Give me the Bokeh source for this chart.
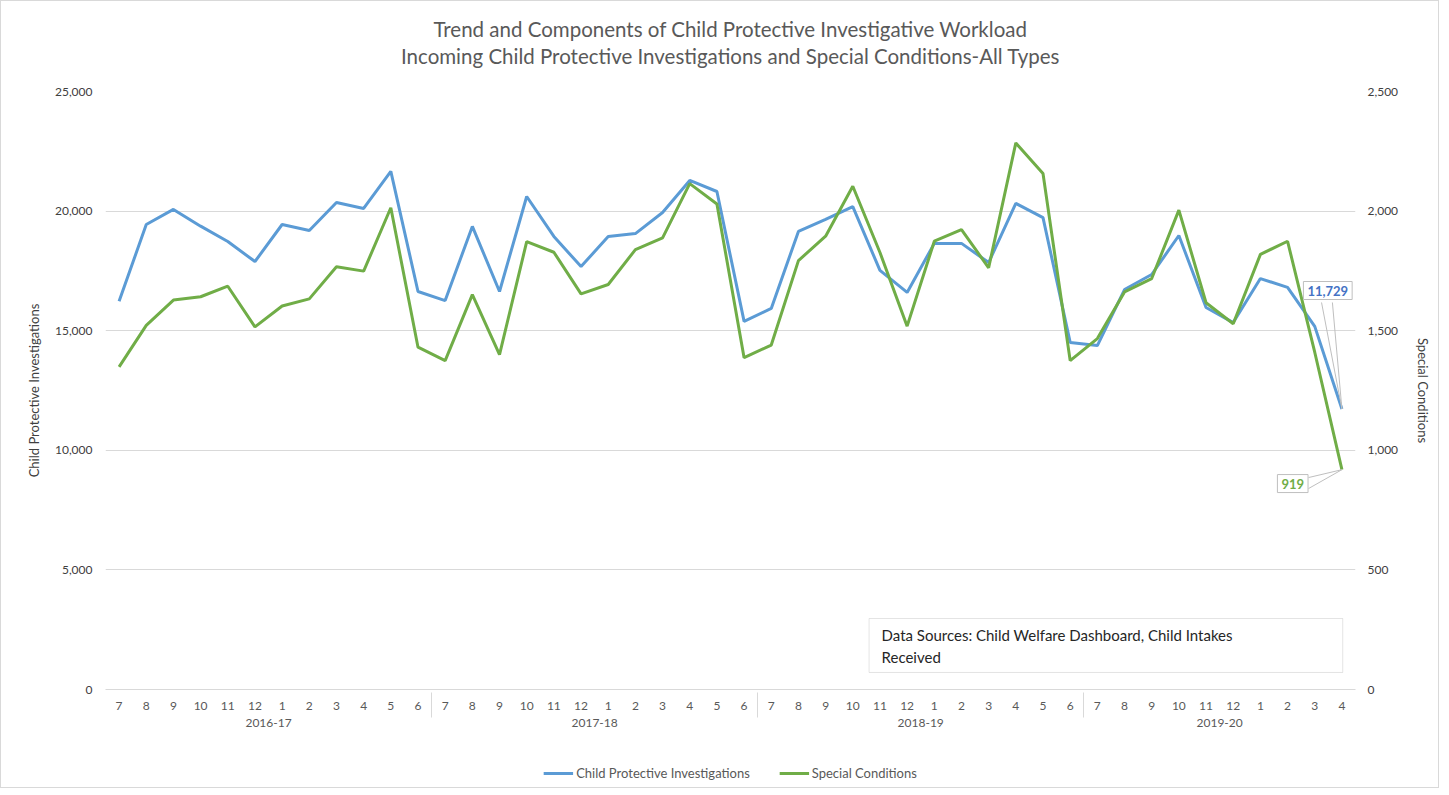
from bokeh.plotting import figure
from bokeh.layouts import column
from bokeh.models import (FactorRange, Range1d, LinearAxis, NumeralTickFormatter,
                          SingleIntervalTicker, Legend, LegendItem, Title, Label,
                          BoxAnnotation)
from bokeh.embed import file_html
from bokeh.resources import INLINE

fiscal_years = ["2016-17", "2017-18", "2018-19", "2019-20"]
months = ["7", "8", "9", "10", "11", "12", "1", "2", "3", "4", "5", "6"]
months_last_year = ["7", "8", "9", "10", "11", "12", "1", "2", "3", "4"]

cpi = [16230, 19440, 20070, 19370, 18730, 17890, 19440, 19190, 20360, 20110, 21660, 16640,
       16260, 19360, 16640, 20610, 18940, 17680, 18940, 19060, 19940, 21280, 20820, 15390,
       15930, 19150, 19650, 20190, 17520, 16600, 18650, 18650, 17850, 20320, 19730, 14510,
       14380, 16720, 17350, 18980, 15970, 15340, 17180, 16810, 15180, 11729]
special = [1349, 1522, 1628, 1642, 1686, 1516, 1603, 1633, 1767, 1749, 2014, 1431,
           1375, 1651, 1400, 1872, 1828, 1654, 1693, 1839, 1888, 2115, 2030, 1387,
           1440, 1793, 1895, 2104, 1827, 1519, 1874, 1923, 1763, 2285, 2157, 1375,
           1467, 1662, 1718, 2004, 1617, 1529, 1819, 1874, 1410, 919]

series_names = ["Child Protective Investigations", "Special Conditions"]
title_1 = "Trend and Components of Child Protective Investigative Workload"
title_2 = "Incoming Child Protective Investigations and Special Conditions-All Types"
source_1 = "Data Sources: Child Welfare Dashboard, Child Intakes"
source_2 = "Received"

factors = [(fy, m) for fy in fiscal_years[:3] for m in months] + \
          [(fiscal_years[3], m) for m in months_last_year]

FONT = "Lato"
TXT = "#595959"
BLUE = "#5B9BD5"
GREEN = "#70AD47"

p = figure(x_range=FactorRange(*factors, factor_padding=0, group_padding=0,
                               subgroup_padding=0, range_padding=0),
           y_range=Range1d(0, 25000),
           frame_width=1250, frame_height=598,
           output_backend="svg", toolbar_location=None,
           min_border_left=104, min_border_right=83, min_border_top=90,
           min_border_bottom=70)
p.extra_y_ranges = {"right": Range1d(0, 2500)}
p.outline_line_color = None

# titles
p.add_layout(Title(text=title_2, align="center", text_font=FONT, text_font_size="20.5px",
                   text_font_style="normal", text_color=TXT, standoff=47.5), "above")
p.add_layout(Title(text=title_1, align="center", text_font=FONT, text_font_size="20.5px",
                   text_font_style="normal", text_color=TXT, standoff=-46.5), "above")

# axes
p.yaxis.ticker = SingleIntervalTicker(interval=5000)
p.yaxis.formatter = NumeralTickFormatter(format="0,0")
p.yaxis.axis_label = series_names[0]
right = LinearAxis(y_range_name="right", ticker=SingleIntervalTicker(interval=500),
                   formatter=NumeralTickFormatter(format="0,0"),
                   axis_label=series_names[1])
p.add_layout(right, "right")
for ax in (p.yaxis[0], right):
    ax.axis_line_color = None
    ax.major_tick_line_color = None
    ax.minor_tick_line_color = None
    ax.major_label_text_font = FONT
    ax.major_label_text_font_size = "12px"
    ax.major_label_text_color = "#404040"
    ax.axis_label_text_font = FONT
    ax.axis_label_text_font_size = "13px"
    ax.axis_label_text_font_style = "normal"
    ax.axis_label_text_color = "#404040"
p.yaxis[0].major_label_standoff = 7
p.yaxis[0].axis_label_standoff = 10
right.major_label_standoff = 6
right.axis_label_standoff = 14

xa = p.xaxis[0]
xa.axis_line_color = "#D9D9D9"
xa.major_tick_line_color = None
xa.minor_tick_line_color = None
xa.major_label_text_font = FONT
xa.major_label_text_font_size = "12px"
xa.major_label_text_color = TXT
xa.major_label_standoff = 6
xa.group_text_font = FONT
xa.group_text_font_size = "12px"
xa.group_text_color = TXT
xa.group_text_font_style = "normal"
xa.separator_line_color = "#D9D9D9"
xa.separator_line_width = 1

p.xgrid.grid_line_color = None
p.ygrid.grid_line_color = "#D9D9D9"
p.ygrid.ticker = SingleIntervalTicker(interval=5000)

r1 = p.line(x=factors, y=cpi, line_color=BLUE, line_width=3)
r2 = p.line(x=factors, y=special, line_color=GREEN, line_width=3, y_range_name="right")

# data source box
p.add_layout(BoxAnnotation(left=28.1, right=45.53, top=2968, bottom=711,
                           fill_color="white", fill_alpha=1,
                           line_color="#A6A6A6", line_width=1))
p.add_layout(Label(x=28.56, y=2258, text=source_1, text_baseline="middle",
                   text_font=FONT, text_font_size="15px", text_color="#262626"))
p.add_layout(Label(x=28.56, y=1338, text=source_2, text_baseline="middle",
                   text_font=FONT, text_font_size="15px", text_color="#262626"))

# callouts for last values
last_x = len(factors) - 0.5
p.multi_line(xs=[[44.75, last_x], [45.15, last_x]],
             ys=[[16180, cpi[-1]], [16180, cpi[-1]]],
             line_color="#BFBFBF", line_width=1)
p.add_layout(Label(x=44.98, y=16680, text=f"{cpi[-1]:,}", text_align="center",
                   text_baseline="middle", text_color="#4472C4", text_font=FONT,
                   text_font_size="13px", text_font_style="bold",
                   background_fill_color="white", border_line_color="#BFBFBF",
                   padding=4))
p.multi_line(xs=[[44.27, last_x], [44.27, last_x]],
             ys=[[886, special[-1]], [840, special[-1]]],
             line_color="#BFBFBF", line_width=1, y_range_name="right")
p.add_layout(Label(x=43.69, y=861, y_range_name="right", text=f"{special[-1]:,}",
                   text_align="center", text_baseline="middle", text_color=GREEN,
                   text_font=FONT, text_font_size="13px", text_font_style="bold",
                   background_fill_color="white", border_line_color="#BFBFBF",
                   padding=4))

# legend strip below the chart (proxy renderers placed outside its visible range)
lg = figure(width=1437, height=28, output_backend="svg", toolbar_location=None,
            x_range=Range1d(0, 1), y_range=Range1d(0, 1),
            x_axis_type=None, y_axis_type=None,
            min_border_left=12, min_border_right=0, min_border_top=0, min_border_bottom=0)
lg.outline_line_color = None
lg.xgrid.visible = False
lg.ygrid.visible = False
d1 = lg.line(x=[5, 6], y=[5, 5], line_color=BLUE, line_width=3)
d2 = lg.line(x=[5, 6], y=[5, 5], line_color=GREEN, line_width=3)
legend = Legend(items=[LegendItem(label=series_names[0], renderers=[d1]),
                       LegendItem(label=series_names[1], renderers=[d2])],
                orientation="horizontal", location="center", border_line_color=None,
                background_fill_alpha=0,
                label_text_font=FONT, label_text_font_size="13px", label_text_color=TXT,
                glyph_width=30, spacing=29, padding=2, margin=0, label_standoff=3)
lg.add_layout(legend)

layout = column(p, lg, spacing=0)
layout.styles = {"border": "1px solid #D9D9D9"}

open("out.html", "w").write(file_html(layout, INLINE))
